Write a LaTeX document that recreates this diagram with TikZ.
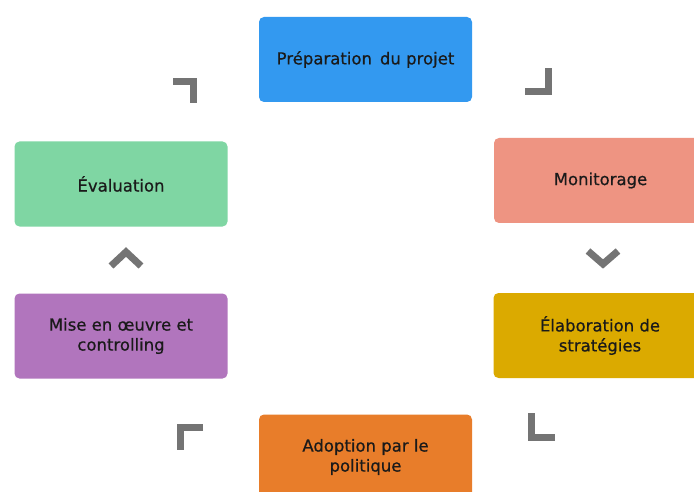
\documentclass[tikz,border=0pt]{standalone}
\usepackage{fontspec}
\setmainfont{DejaVu Sans}[BoldFont={DejaVu Sans}, BoldFeatures={FakeBold=0.6}]
\definecolor{cblue}{HTML}{3399F0}
\definecolor{csalmon}{HTML}{EE9482}
\definecolor{cgold}{HTML}{DBAA00}
\definecolor{corange}{HTML}{E87D2A}
\definecolor{cpurple}{HTML}{B175BD}
\definecolor{cgreen}{HTML}{7FD6A3}
\definecolor{ctext}{HTML}{1A1A1A}
\definecolor{cchev}{HTML}{747474}
\tikzset{
  stage/.style={rectangle, rounded corners=5pt, minimum width=213pt, minimum height=85pt,
    inner sep=0pt, align=center, text=ctext,
    font=\fontsize{16.5pt}{20pt}\selectfont\bfseries},
  chev/.style={draw=cchev, line width=7pt, line join=miter, line cap=butt}
}
\begin{document}
\begin{tikzpicture}[x=1pt,y=-1pt]
\useasboundingbox (0,0) rectangle (694,492);
\fill[white] (0,0) rectangle (694,492);
\node[stage, fill=cblue]    (prep) at (365.5,59.5) {Préparation\, du projet};
\node[stage, fill=csalmon]  (moni) at (600.5,180.5) {Monitorage};
\node[stage, fill=cgold]    (elab) at (600,335.5) {Élaboration de\\stratégies};
\node[stage, fill=corange]  (adop) at (365.5,457) {Adoption par le\\politique};
\node[stage, fill=cpurple]  (mise) at (121,336) {Mise en œuvre et\\controlling};
\node[stage, fill=cgreen]   (eval) at (121,184) {Évaluation};
% chevrons
\draw[chev] (525,91.5) -- (548,91.5) -- (548,68);
\draw[chev] (588,251) -- (603,264) -- (618,251);
\draw[chev] (531,413) -- (531,437.5) -- (555,437.5);
\draw[chev] (203,427) -- (180.5,427) -- (180.5,450);
\draw[chev] (111,266) -- (126,252) -- (141,266);
\draw[chev] (173,81.5) -- (193.5,81.5) -- (193.5,103);
\end{tikzpicture}
\end{document}
